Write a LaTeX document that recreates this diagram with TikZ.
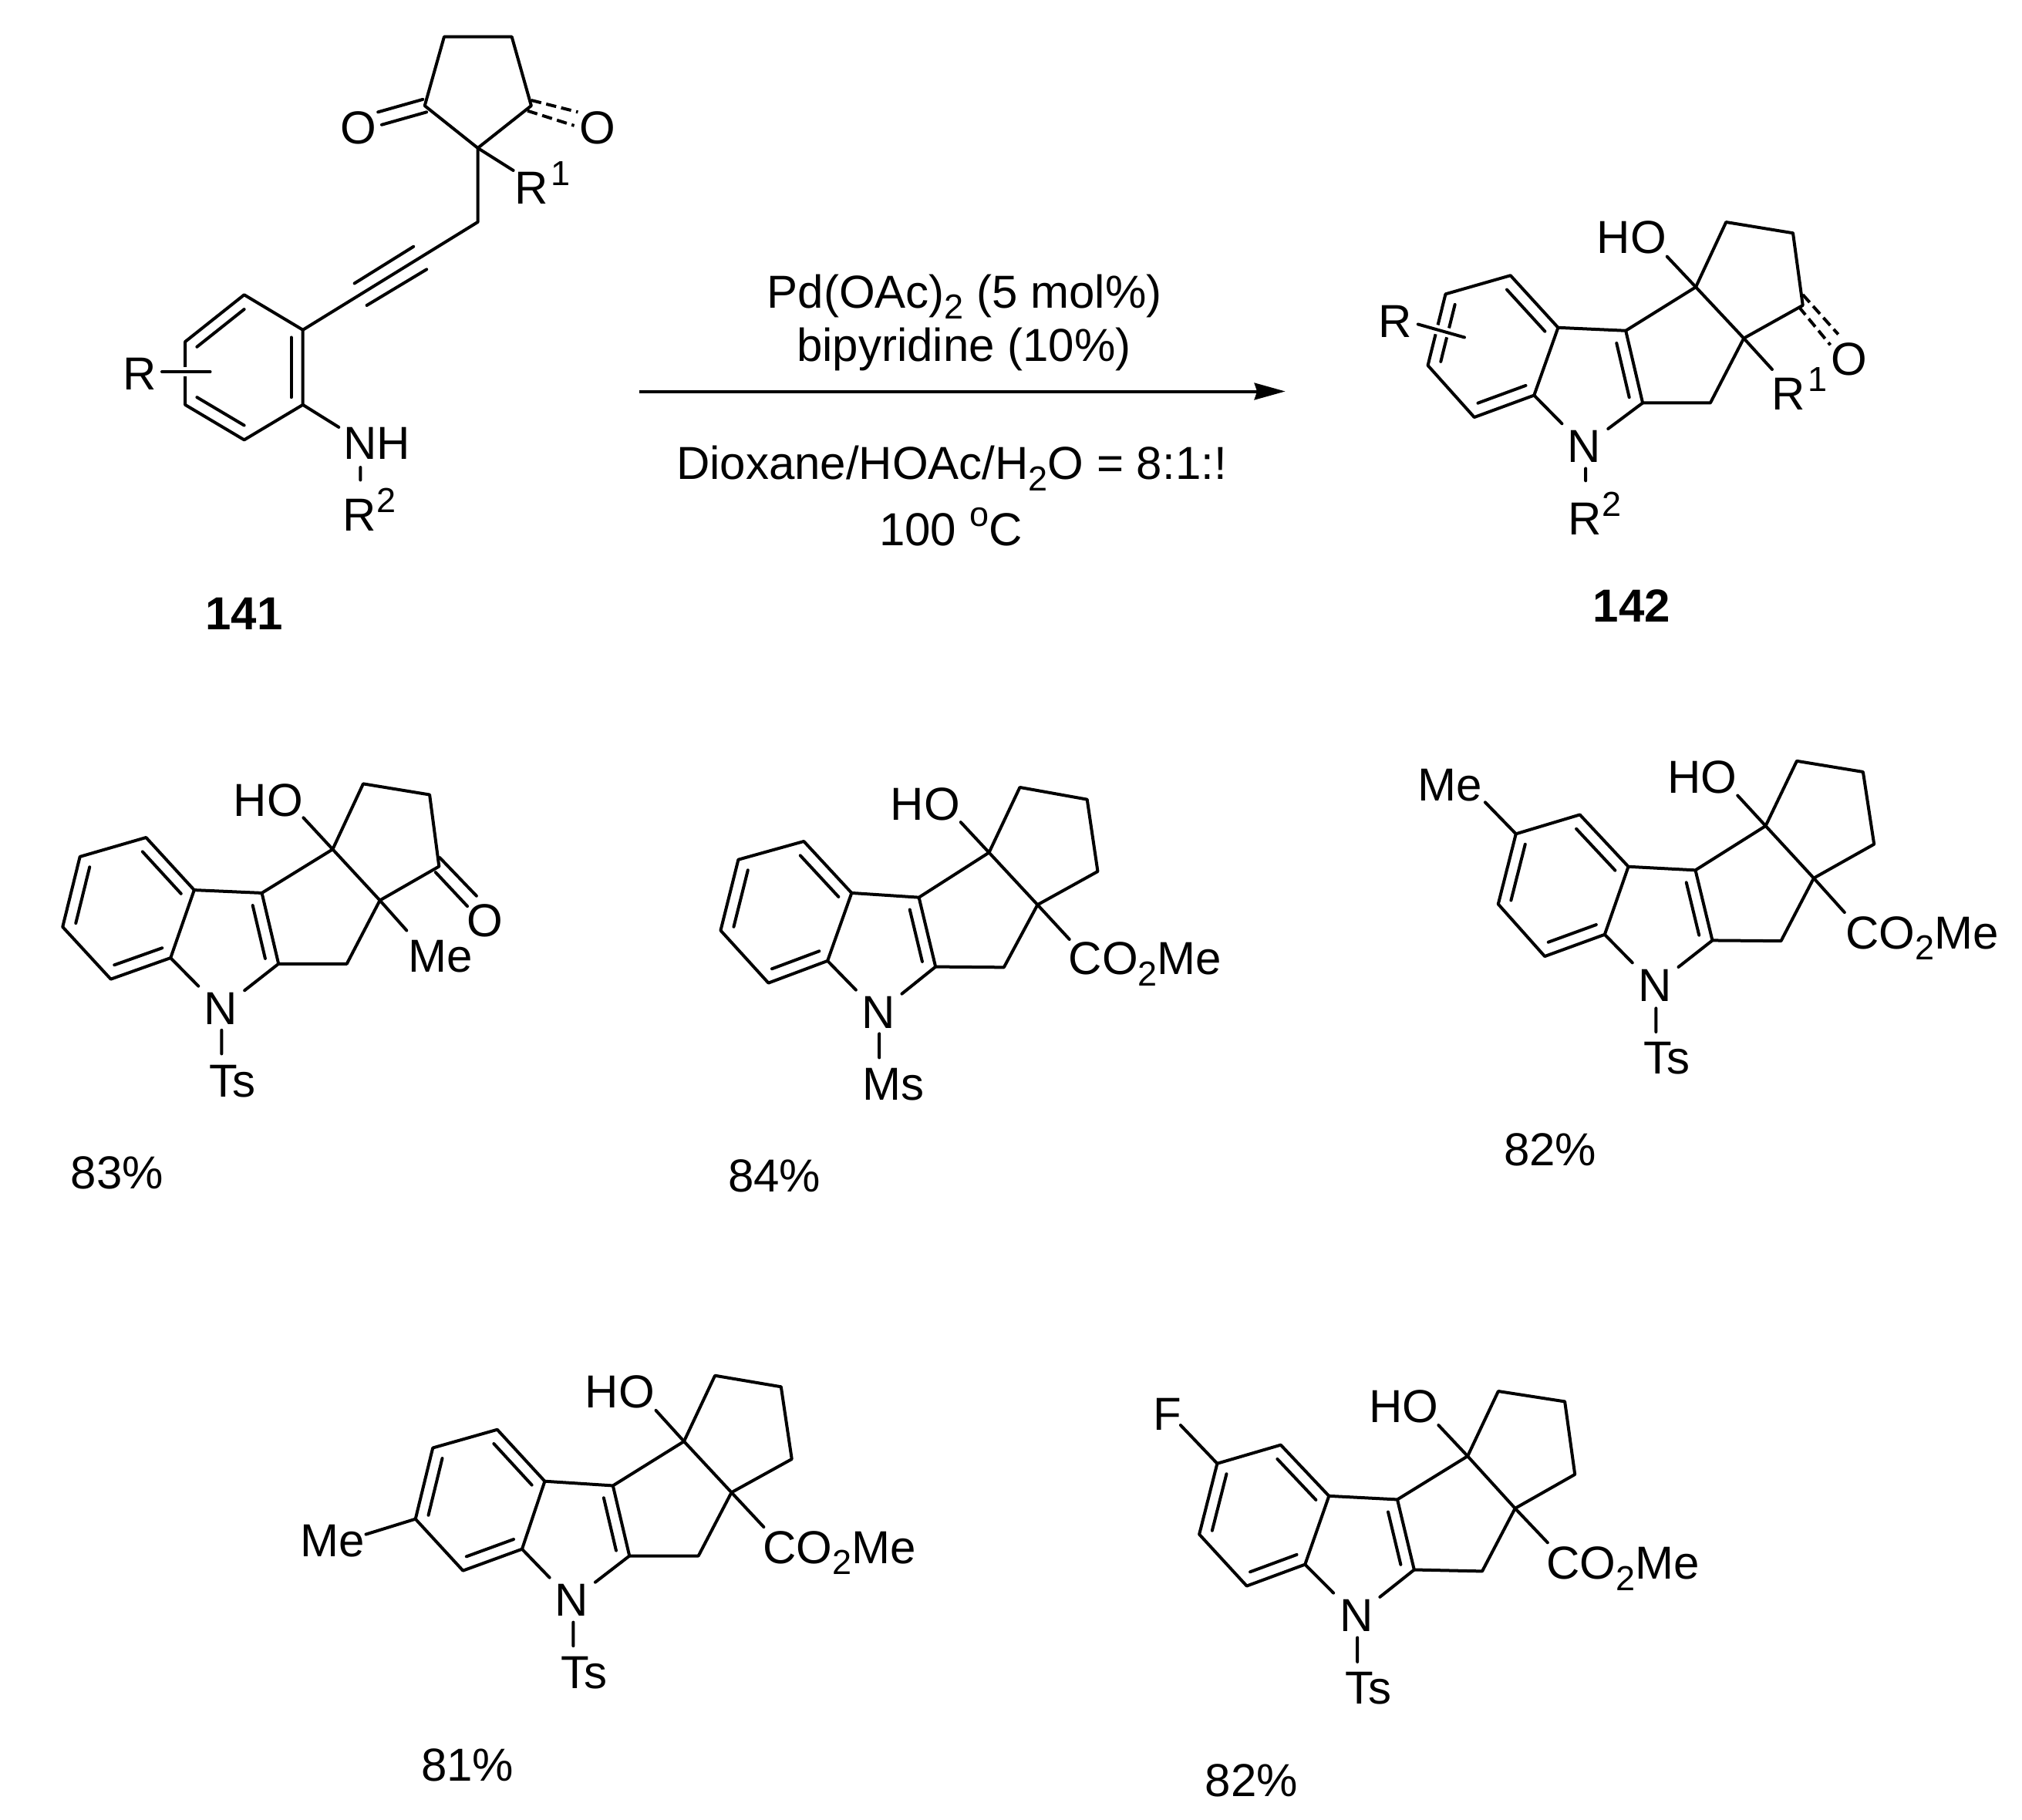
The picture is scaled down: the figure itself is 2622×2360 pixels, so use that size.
\documentclass[tikz,border=0pt]{standalone}
\usepackage{fontspec}
\setmainfont{Liberation Sans}
\usetikzlibrary{arrows.meta,calc}
\newcommand\chsub[1]{\raisebox{-0.24em}{\fontsize{13.5}{14}\selectfont #1}}
\newcommand\chsup[2][0.4em]{\raisebox{#1}{\fontsize{13.5}{14}\selectfont #2}}
\tikzset{
  zframe/.style n args={4}{shift={(#1,#2)},x={0.3pt*#3/1568},y={-0.3pt*#4/1568}},
  bond/.style={line width=1.2pt,line cap=round,line join=round,black},
  halo/.style={line width=3.6pt,white},
  dashbond/.style={bond,line cap=butt,dash pattern=on 4pt off 2pt},
  lab/.style={anchor=base,inner sep=2.5pt,font=\fontsize{18}{18}\selectfont,text=black},
  numlab/.style={anchor=base,inner sep=0pt,font=\fontsize{18}{18}\selectfont\bfseries,text=black}
}
\newcommand\Mol[2]{\foreach \n/\px/\py in {#2}{\coordinate (#1\n) at (\px,\py);}}
\newcommand\dbl[4]{\draw[bond] ($(#1)!#4!(#3)$) -- ($(#2)!#4!(#3)$);}
\newcommand\Skel[1]{%
  \node[lab] (#1atomN) at (#1N) {N};
  \coordinate (#1ctrb) at ($(#1b2)!.5!(#1b5)$);
  \coordinate (#1ctrp) at (barycentric cs:#1b3=1,#1b4=1,#1atomN=1,#1c1=1,#1c2=1);
  \draw[bond] (#1b1)--(#1b2)--(#1b3)--(#1b4)--(#1b5)--(#1b6)--cycle;
  \draw[bond] (#1b3)--(#1c1)--(#1c2)--(#1d)--(#1q)--(#1o)--(#1c1);
  \draw[bond] (#1o)--(#1e1)--(#1e2)--(#1e3)--(#1q);
  \draw[bond] (#1b4)--(#1atomN) (#1c2)--(#1atomN);
  \draw[bond] (#1o)--(#1hoend);
  \dbl{#1b1}{#1b6}{#1ctrb}{.2}
  \dbl{#1b2}{#1b3}{#1ctrb}{.2}
  \dbl{#1b4}{#1b5}{#1ctrb}{.2}
  \dbl{#1c1}{#1c2}{#1ctrp}{.25}
}
\begin{document}
\begin{tikzpicture}[x=0.3pt,y=-0.3pt]
\useasboundingbox (0,0) rectangle (2622,2360);
\fill[white] (0,0) rectangle (2622,2360);

% ---------- 141
\begin{scope}[zframe={100}{0}{760}{860}]
\Mol{s}{a1/447/697,a2/604/780,a3/604/957,a4/447/1040,a5/289/957,a6/289/808,
  y1/1072/525,q/1072/350,l/930/250,t1/982/87,t2/1163/87,r/1215/250,
  ta/742/670,tb/900/583,tc/775/722,td/935/637,
  ola/805/265,olb/925/235,olc/815/295,old/935/265,
  ora/1215/237,orb/1340/265,orc/1205/262,ord/1330/297,
  rone/1167/403,nhend/700/1010,rx1/227/879,rx2/356/879,nr1/758/1105,nr2/758/1135}
\coordinate (sctr) at ($(sa1)!.5!(sa4)$);
\draw[bond] (sa1)--(sa2)--(sa3)--(sa4)--(sa5)--(sa6)--cycle;
\dbl{sa1}{sa6}{sctr}{.2}
\dbl{sa2}{sa3}{sctr}{.2}
\dbl{sa4}{sa5}{sctr}{.2}
\draw[halo] (srx1)--(srx2);
\draw[bond] (srx1)--(srx2);
\draw[bond] (sa2)--(sy1)--(sq)--(sl)--(st1)--(st2)--(sr)--(sq);
\draw[bond] (sta)--(stb) (stc)--(std);
\draw[bond] (sola)--(solb) (solc)--(sold);
\draw[dashbond] (sora)--(sorb) (sorc)--(sord);
\draw[bond] (sq)--(srone) (sa3)--(snhend) (snr1)--(snr2);
\node[lab] (sO1) at (753,340) {O};
\node[lab] (sO2) at (1392,340) {O};
\node[lab] (sR1) at (1245,482) {R\kern1pt\chsup[0.4em]{1}};
\node[lab] (sR) at (168,922) {R};
\node[lab] (sNH) at (802,1085) {NH};
\node[lab] (sR2) at (782,1255) {R\chsup[0.4em]{2}};
\node[numlab] (s141) at (447,1488) {141};
\end{scope}

% ---------- arrow and conditions
\begin{scope}[zframe={800}{320}{900}{526}]
\coordinate (arA) at (50,559);
\coordinate (arB) at (1510,559);
\draw[line width=1.2pt,-{Stealth[length=12pt,width=6.5pt,inset=1pt]}] (arA)--(arB);
\node[lab] (cond1) at (785,237) {Pd(OAc)\chsub{2} (5 mol\%)};
\node[lab] (cond2) at (784,443) {bipyridine (10\%)};
\node[lab] (cond3) at (756,900) {Dioxane/HOAc/H\chsub{2}O = 8:1:!};
\node[lab] (cond4) at (754,1155) {100 \chsup[0.42em]{o}C};
\end{scope}

% ---------- 142
\begin{scope}[zframe={1700}{220}{800}{620}]
\Mol{p}{b1/342/408,b2/507/347,b3/628/518,b4/567/740,b5/415/812,b6/297/642,c1/800/528,c2/843/765,
  N/695/960,d/1015/765,q/1100/553,o/978/385,e1/1055/172,e2/1225/208,e3/1250/445,hoend/905/285,
  rx1/272/507,rx2/390/550,ra/1250/410,rb/1340/540,rc/1240/450,rd/1320/575,rone/1172/655,nr1/698/980,nr2/698/1020}
\Skel{p}
\draw[halo] (prx1)--(prx2);
\draw[bond] (prx1)--(prx2);
\draw[dashbond] (pra)--(prb) (prc)--(prd);
\draw[bond] (pq)--(prone) (pnr1)--(pnr2);
\node[lab] (pHO) at (815,275) {HO};
\node[lab] (pR) at (213,550) {R};
\node[lab] (pO) at (1368,675) {O};
\node[lab] (pR1) at (1241,787) {R\kern1pt\chsup[0.4em]{1}};
\node[lab] (pR2) at (721,1197) {R\chsup[0.4em]{2}};
\node[numlab] (p142) at (815,1483) {142};
\end{scope}

% ---------- 83%
\begin{scope}[zframe={60}{980}{640}{600}]
\Mol{f}{b1/107/342,b2/317/277,b3/470/455,b4/395/685,b5/205/757,b6/52/580,c1/685/465,c2/738/705,
  N/555/912,d/955/705,q/1060/490,o/910/317,e1/1007/95,e2/1218/132,e3/1248/375,hoend/817/210,
  oa/1250/345,ob/1367/475,oc/1237/395,od/1338/510,me/1145/592,ts1/557/930,ts2/557/1010}
\Skel{f}
\draw[bond] (foa)--(fob) (foc)--(fod) (fq)--(fme) (fts1)--(fts2);
\node[lab] (fHO) at (705,205) {HO};
\node[lab] (fO) at (1395,612) {O};
\node[lab] (fMe) at (1253,733) {Me};
\node[lab] (fTs) at (592,1157) {Ts};
\node[lab] (fY) at (225,1467) {83\%};
\end{scope}

% ---------- 84%
\begin{scope}[zframe={900}{980}{720}{600}]
\Mol{g}{b1/125/352,b2/310/290,b3/445/465,b4/377/695,b5/210/770,b6/75/592,c1/635/480,c2/682/715,
  N/520/925,d/875/717,q/970/505,o/833/328,e1/920/107,e2/1110/148,e3/1140/392,hoend/753/225,
  co/1060/622,ts1/523/942,ts2/523/1023}
\Skel{g}
\draw[bond] (gq)--(gco) (gts1)--(gts2);
\node[lab] (gHO) at (653,218) {HO};
\node[lab] (gCO) at (1274,742) {CO\chsub{2}Me};
\node[lab] (gMs) at (562,1168) {Ms};
\node[lab] (gY) at (227,1478) {84\%};
\end{scope}

% ---------- 82% (Me)
\begin{scope}[zframe={1820}{960}{802}{600}]
\Mol{h}{b1/285/317,b2/447/252,b3/570/428,b4/510/658,b5/358/732,b6/240/555,c1/740/440,c2/783/678,
  N/637/885,d/957/680,q/1040/467,o/918/290,e1/997/70,e2/1165/107,e3/1193/352,hoend/847/187,
  me/207/210,co/1118/583,ts1/640/908,ts2/640/988}
\Skel{h}
\draw[bond] (hb1)--(hme) (hq)--(hco) (hts1)--(hts2);
\node[lab] (hHO) at (757,178) {HO};
\node[lab] (hMe) at (117,205) {Me};
\node[lab] (hCO) at (1315,707) {CO\chsub{2}Me};
\node[lab] (hTs) at (668,1130) {Ts};
\node[lab] (hY) at (372,1442) {82\%};
\end{scope}

% ---------- 81%
\begin{scope}[zframe={370}{1760}{840}{600}]
\Mol{i}{b1/357/307,b2/513/245,b3/628/420,b4/573/650,b5/430/723,b6/315/548,c1/793/435,c2/833/673,
  N/693/878,d/1000/673,q/1080/458,o/965/285,e1/1040/62,e2/1200/100,e3/1226/345,hoend/897/180,
  me/195/600,co/1158/575,ts1/697/898,ts2/697/978}
\Skel{i}
\draw[bond] (ib6)--(ime) (iq)--(ico) (its1)--(its2);
\node[lab] (iHO) at (810,172) {HO};
\node[lab] (iMe) at (115,675) {Me};
\node[lab] (iCO) at (1341,698) {CO\chsub{2}Me};
\node[lab] (iTs) at (723,1123) {Ts};
\node[lab] (iY) at (441,1435) {81\%};
\end{scope}

% ---------- 82% (F)
\begin{scope}[zframe={1480}{1760}{760}{600}]
\Mol{j}{b1/203/360,b2/373/297,b3/502/470,b4/438/702,b5/282/775,b6/155/600,c1/685/482,c2/730/720,
  N/575/930,d/912/725,q/1000/512,o/873/335,e1/955/115,e2/1133/150,e3/1160/397,hoend/795/230,
  ff/105/230,co/1087/628,ts1/578/950,ts2/578/1032}
\Skel{j}
\draw[bond] (jb1)--(jff) (jq)--(jco) (jts1)--(jts2);
\node[lab] (jHO) at (702,222) {HO};
\node[lab] (jF) at (70,248) {F};
\node[lab] (jCO) at (1289,752) {CO\chsub{2}Me};
\node[lab] (jTs) at (607,1175) {Ts};
\node[lab] (jY) at (295,1487) {82\%};
\end{scope}
\end{tikzpicture}
\end{document}
